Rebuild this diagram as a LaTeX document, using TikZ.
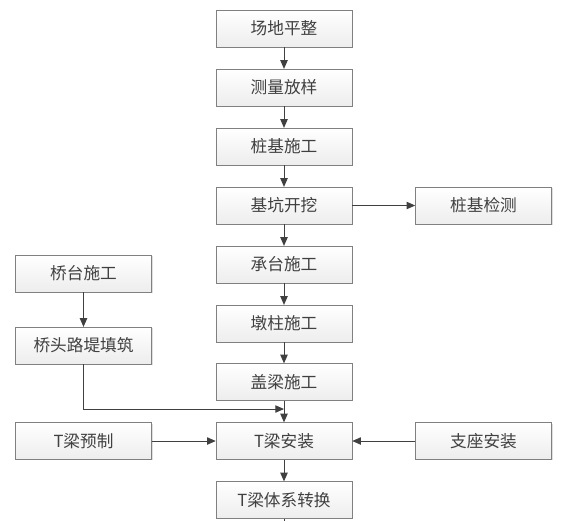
\documentclass[tikz,border=0pt]{standalone}
\usepackage{fontspec}
\newfontfamily\cjk{Noto Sans CJK SC}
\usepackage{tikz}
\usetikzlibrary{arrows.meta,positioning,shadows}
\usepackage{xcolor}
\definecolor{boxline}{RGB}{128,128,128}
\definecolor{flowline}{RGB}{64,64,64}

\tikzset{
  stepbox/.style={draw=boxline,top color=white,bottom color=gray!14,
    minimum width=102pt,minimum height=27.5pt,inner sep=0pt,
    font=\cjk\fontsize{12.5}{14}\selectfont,text=black!75,
    drop shadow={shadow xshift=0.8pt,shadow yshift=-0.8pt,opacity=0.25}},
  flow/.style={draw=flowline,line width=0.7pt,-{Triangle[length=6.5pt,width=5.5pt]}}
}

\begin{document}
\begin{tikzpicture}[x=0.75pt,y=-0.75pt]
\useasboundingbox (0,0) rectangle (584,521);
% main column
\node[stepbox] (s1) at (284,28.5) {场地平整};
\node[stepbox] (s2) at (284,87.5) {测量放样};
\node[stepbox] (s3) at (284,146.5) {桩基施工};
\node[stepbox] (s4) at (284,205.5) {基坑开挖};
\node[stepbox] (s5) at (284,264.5) {承台施工};
\node[stepbox] (s6) at (284,323.5) {墩柱施工};
\node[stepbox] (s7) at (284,382) {盖梁施工};
\node[stepbox] (s8) at (284,441) {T梁安装};
\node[stepbox] (s9) at (284,500) {T梁体系转换};
% side boxes
\node[stepbox] (pile) at (483.5,205.5) {桩基检测};
\node[stepbox] (abut) at (83.5,273.5) {桥台施工};
\node[stepbox] (fill) at (83.5,345.5) {桥头路堤填筑};
\node[stepbox] (pre) at (83.5,441) {T梁预制};
\node[stepbox] (bear) at (483.5,441) {支座安装};
\coordinate (join) at (284,409);
\coordinate (tail) at (284,521);

\foreach \a/\b in {s1/s2,s2/s3,s3/s4,s4/s5,s5/s6,s6/s7,s7/s8,s8/s9}
  \draw[flow] (\a) -- (\b);
\draw[flow] (s4) -- (pile);
\draw[flow] (abut) -- (fill);
\draw[flow] (fill.south) |- (join);
\draw[flow] (pre) -- (s8);
\draw[flow] (bear) -- (s8);
\draw[draw=flowline,line width=0.7pt] (s9.south) -- (tail);
\end{tikzpicture}
\end{document}
